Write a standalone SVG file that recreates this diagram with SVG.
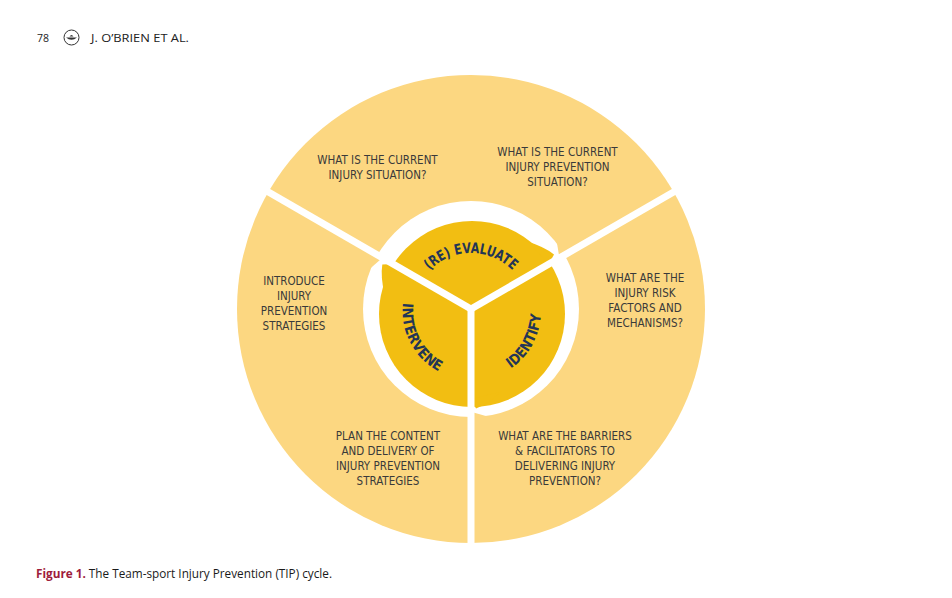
<svg xmlns="http://www.w3.org/2000/svg" width="952" height="598" viewBox="0 0 952 598">
<style>
.bg{fill:#ffffff}
.outer{fill:#FCD781}
.ring{fill:#ffffff}
.inner{fill:#F2BE12}
.notch{fill:#FCD781}
.spoke{stroke:#ffffff;stroke-width:7;fill:none}
.q{font-family:"DejaVu Sans Condensed","Liberation Sans",sans-serif;font-size:11.5px;fill:#3a3a3a;text-anchor:middle}
.lab{font-family:"DejaVu Sans Condensed","DejaVu Sans",sans-serif;font-weight:bold;font-size:14.5px;fill:#233556}
.hdr{font-family:"Open Sans","Liberation Sans",sans-serif;font-size:11.5px;fill:#222222}
.cap{font-family:"Open Sans","Liberation Sans",sans-serif;font-size:12px;fill:#1a1a1a}
.fig{fill:#9E1C3C;font-weight:bold}
</style>
<defs>
<path id="pEval" d="M 429.99 269.99 A 58 58 0 0 1 512.01 269.99"/>
<path id="pInt" d="M 403.17 301.47 A 68.5 68.5 0 0 0 439.9 372.03"/>
<path id="pId" d="M 510.14 369.03 A 70 70 0 0 0 540.96 313.44"/>
</defs>
<rect class="bg" x="0" y="0" width="952" height="598"/>

<g id="header">
<text class="hdr" x="37" y="41.5" textLength="12" lengthAdjust="spacingAndGlyphs">78</text>
<circle cx="71.5" cy="37.5" r="7.5" fill="#ffffff" stroke="#333333" stroke-width="1"/>
<path d="M66 37.5 Q71.5 42 77 37.5 Z" fill="#333333"/>
<path d="M69.5 36.5 Q71.5 33.5 73.5 36.5 Z" fill="#333333"/>
<text class="hdr" x="91" y="41.5" textLength="98" lengthAdjust="spacingAndGlyphs">J. O’BRIEN ET AL.</text>
</g>

<g id="wheel">
<circle class="outer" cx="471" cy="309" r="234"/>
<circle class="ring" cx="471" cy="309" r="108"/>
<circle class="inner" cx="472" cy="314" r="93"/>
<!-- arrow tips of the cycle ring -->
<path class="notch" d="M 556.5 240.0 L 565.3 253.0 L 558.8 254.2 Z"/>
<path class="inner" d="M 527.6 241.6 Q 544.5 247.0 554.0 254.5 L 548.9 264 Z"/>
<path class="notch" d="M 488.5 416.8 L 472 418.0 L 473.5 412.5 Z"/>
<path class="inner" d="M 501.1 391.7 Q 487.5 404.0 476.0 408.5 L 471 399 Z"/>
<path class="notch" d="M 368.5 270.0 L 375.7 255.2 L 380.2 259.8 Z"/>
<path class="inner" d="M 384.3 293.7 Q 380.5 276.0 382.3 264.5 L 393.1 264 Z"/>
</g>

<g id="connectors">
<line class="spoke" x1="471" y1="309" x2="471" y2="549"/>
<line class="spoke" x1="471" y1="309" x2="263.2" y2="189"/>
<line class="spoke" x1="471" y1="309" x2="678.8" y2="189"/>
</g>

<g id="node-evaluate">
<text class="lab"><textPath href="#pEval" startOffset="50%" text-anchor="middle" textLength="92" lengthAdjust="spacingAndGlyphs">(RE) EVALUATE</textPath></text>
</g>
<g id="node-intervene">
<text class="lab"><textPath href="#pInt" startOffset="50%" text-anchor="middle" textLength="82" lengthAdjust="spacingAndGlyphs">INTERVENE</textPath></text>
</g>
<g id="node-identify">
<text class="lab"><textPath href="#pId" startOffset="50%" text-anchor="middle" textLength="64" lengthAdjust="spacingAndGlyphs">IDENTIFY</textPath></text>
</g>

<g id="node-current-injury">
<text class="q" x="377.5" y="163.5">WHAT IS THE CURRENT</text>
<text class="q" x="377.5" y="178.5">INJURY SITUATION?</text>
</g>
<g id="node-current-prevention">
<text class="q" x="557.5" y="155.5">WHAT IS THE CURRENT</text>
<text class="q" x="557.5" y="170.5">INJURY PREVENTION</text>
<text class="q" x="557.5" y="185.5">SITUATION?</text>
</g>
<g id="node-risk-factors">
<text class="q" x="645" y="281.5">WHAT ARE THE</text>
<text class="q" x="645" y="296.5">INJURY RISK</text>
<text class="q" x="645" y="311.5">FACTORS AND</text>
<text class="q" x="645" y="326.5">MECHANISMS?</text>
</g>
<g id="node-barriers">
<text class="q" x="565" y="439.5">WHAT ARE THE BARRIERS</text>
<text class="q" x="565" y="454.5">&amp; FACILITATORS TO</text>
<text class="q" x="565" y="469.5">DELIVERING INJURY</text>
<text class="q" x="565" y="484.5">PREVENTION?</text>
</g>
<g id="node-plan">
<text class="q" x="388" y="440">PLAN THE CONTENT</text>
<text class="q" x="388" y="455">AND DELIVERY OF</text>
<text class="q" x="388" y="470">INJURY PREVENTION</text>
<text class="q" x="388" y="485">STRATEGIES</text>
</g>
<g id="node-introduce">
<text class="q" x="294" y="285">INTRODUCE</text>
<text class="q" x="294" y="300">INJURY</text>
<text class="q" x="294" y="315">PREVENTION</text>
<text class="q" x="294" y="330">STRATEGIES</text>
</g>

<g id="caption">
<text class="cap" x="36" y="577.5" textLength="296" lengthAdjust="spacingAndGlyphs"><tspan class="fig">Figure 1.</tspan> The Team-sport Injury Prevention (TIP) cycle.</text>
</g>
</svg>
